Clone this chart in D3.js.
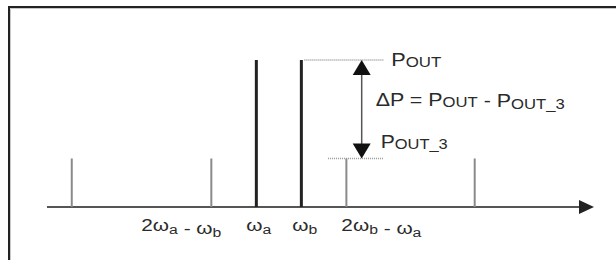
<!DOCTYPE html>
<html lang="en">
<head>
<meta charset="utf-8">
<title>Two-tone intermodulation</title>
<script src="https://d3js.org/d3.v7.min.js"></script>
<style>
  body { margin: 0; background: #fff; }
  svg { display: block; }
  text { font-family: "Liberation Sans", Arial, sans-serif; fill: #2a2a2a; }
</style>
</head>
<body>
<svg id="vis" width="616" height="260"></svg>
<script>
// frequencies in units of (wb - wa), wa = 10
var toneFreqs = [10, 11];
var tonePower = [100, 100];
var spurFreqs = [5.9, 9, 12, 14.85];
var spurPower = [33, 33, 33, 33];
var tickFreqs = [9, 10, 11, 12];
var tickLabels = ["2ω_a - ω_b", "ω_a", "ω_b", "2ω_b - ω_a"];

var svg = d3.select("#vis");

var x = d3.scaleLinear().domain([5.35, 17.5]).range([47, 594]);
var y = d3.scaleLinear().domain([0, 100]).range([207, 60]);

// frame
svg.append("path").attr("d", "M9,260V7H616").attr("fill", "none")
   .attr("stroke", "#222").attr("stroke-width", 2);
svg.append("path").attr("d", "M10.5,260V8.5H616").attr("fill", "none")
   .attr("stroke", "#c8c8c8").attr("stroke-width", 1);

// axis with arrow
var x0 = x.range()[0], x1 = x.range()[1];
svg.append("line").attr("x1", x0).attr("x2", x1 - 12)
   .attr("y1", y(0)).attr("y2", y(0))
   .attr("stroke", "#555").attr("stroke-width", 2);
svg.append("path")
   .attr("d", "M" + (x1 - 15) + "," + (y(0) - 7) + "L" + x1 + "," + y(0) + "L" + (x1 - 15) + "," + (y(0) + 7) + "Z")
   .attr("fill", "#222");

// spurs
svg.selectAll("line.spur").data(spurFreqs).enter().append("line")
   .attr("class", "spur")
   .attr("x1", function(d) { return x(d); }).attr("x2", function(d) { return x(d); })
   .attr("y1", y(0)).attr("y2", function(d, i) { return y(spurPower[i]); })
   .attr("stroke", "#8a8a8a").attr("stroke-width", 2);

// tones
svg.selectAll("line.tone").data(toneFreqs).enter().append("line")
   .attr("class", "tone")
   .attr("x1", function(d) { return x(d); }).attr("x2", function(d) { return x(d); })
   .attr("y1", y(0)).attr("y2", function(d, i) { return y(tonePower[i]); })
   .attr("stroke", "#222").attr("stroke-width", 3);

// dotted reference lines
var pTop = y(tonePower[1]), pBot = y(spurPower[2]);
svg.append("line").attr("x1", x(11) + 3).attr("x2", x(12.82))
   .attr("y1", pTop).attr("y2", pTop)
   .attr("stroke", "#999").attr("stroke-width", 1.5).attr("stroke-dasharray", "1,1");
svg.append("line").attr("x1", x(11.59)).attr("x2", x(12.82))
   .attr("y1", pBot).attr("y2", pBot)
   .attr("stroke", "#999").attr("stroke-width", 1.5).attr("stroke-dasharray", "1,1");

// delta arrow
var ax = x(12.34);
svg.append("line").attr("x1", ax).attr("x2", ax)
   .attr("y1", pTop + 10).attr("y2", pBot - 10)
   .attr("stroke", "#555").attr("stroke-width", 1.5);
svg.append("path")
   .attr("d", "M" + ax + "," + pTop + "L" + (ax + 9) + "," + (pTop + 15) + "L" + (ax - 9) + "," + (pTop + 15) + "Z")
   .attr("fill", "#111");
svg.append("path")
   .attr("d", "M" + ax + "," + pBot + "L" + (ax + 9) + "," + (pBot - 15) + "L" + (ax - 9) + "," + (pBot - 15) + "Z")
   .attr("fill", "#111");

// text helper: "_x" after ω means subscript; "OUT..." small caps
function addLabel(str, px, py, anchor, len, big, small, shift) {
  var t = svg.append("text").attr("x", px).attr("y", py)
     .attr("text-anchor", anchor).attr("font-size", big)
     .attr("textLength", len).attr("lengthAdjust", "spacingAndGlyphs");
  var parts = str.split(/(_[ab]|OUT(?:_3)?)/).filter(function(s) { return s.length; });
  parts.forEach(function(p) {
    if (p[0] === "_" || p.indexOf("OUT") === 0) {
      t.append("tspan").attr("font-size", small).attr("dy", shift)
       .text(p[0] === "_" ? p.slice(1) : p);
      t.append("tspan").attr("dy", -shift).text("");
    } else {
      t.append("tspan").text(p);
    }
  });
  return t;
}

var lx = [x(9) + 10, x(10) + 2.5, x(11) + 3.5, x(12) - 5];
var anchors = ["end", "middle", "middle", "start"];
var lens = [80, 25, 25, 80];
tickLabels.forEach(function(s, i) {
  addLabel(s, lx[i], y(0) + 24, anchors[i], lens[i], 16.5, 12.5, 3);
});

addLabel("POUT", ax + 29.5, pTop + 5.5, "start", 50, 18, 14, 1.5);
addLabel("ΔP = POUT - POUT_3", ax + 14, 105.5, "start", 189, 18, 14, 1.5);
addLabel("POUT_3", ax + 19, pBot - 10.5, "start", 67, 18, 14, 1.5);
</script>
</body>
</html>
